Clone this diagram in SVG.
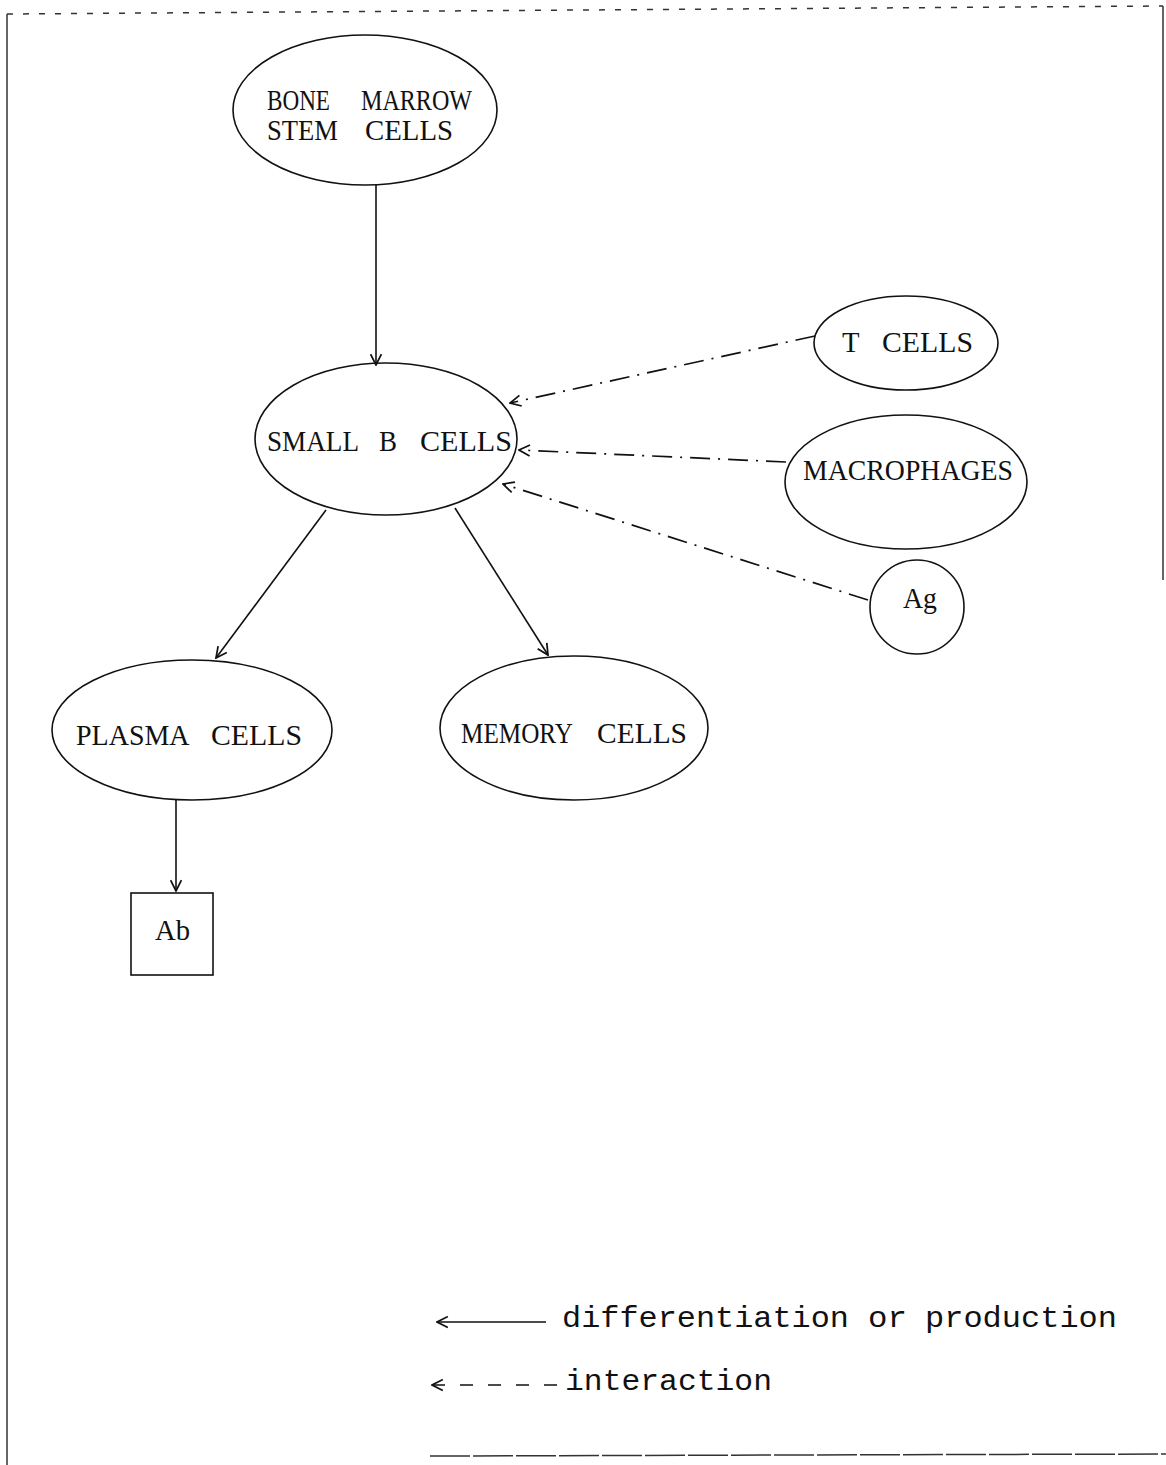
<svg xmlns="http://www.w3.org/2000/svg" width="1166" height="1465" viewBox="0 0 1166 1465">
<style>
.node{fill:none;stroke:#111;stroke-width:1.6}
.lbl{font-family:"Liberation Serif","DejaVu Serif",serif;font-size:30px;fill:#111}
.leg{font-family:"Liberation Mono","DejaVu Sans Mono",monospace;font-size:30px;fill:#111}
.solid{fill:none;stroke:#111;stroke-width:1.6}
.dash{fill:none;stroke:#111;stroke-width:1.7;stroke-dasharray:20 8 2 8}
.frame{fill:none;stroke:#333;stroke-width:1.5}
</style>
<defs>
<marker id="ah" viewBox="0 0 12 12" refX="11" refY="6" markerWidth="13" markerHeight="13" markerUnits="userSpaceOnUse" orient="auto">
<path d="M1,1 L11,6 L1,11" fill="none" stroke="#111" stroke-width="1.6"/>
</marker>
</defs>
<rect width="1166" height="1465" fill="#fff"/>
<g id="frame">
<path class="frame" d="M7,14 L1163,6" stroke-dasharray="6 10" stroke-width="1.2"/>
<path class="frame" d="M7,14 L7,1465" stroke-width="2"/>
<path class="frame" d="M1163,6 L1163,580" stroke-width="2.5"/>
<path class="frame" d="M430,1456 L1166,1454" stroke-dasharray="40 3" stroke-width="1.6"/>
</g>
<g id="connectors">
<line class="solid" x1="376" y1="185" x2="376" y2="365" marker-end="url(#ah)"/>
<line class="dash" x1="815" y1="336" x2="510" y2="403" marker-end="url(#ah)"/>
<line class="dash" x1="786" y1="462" x2="519" y2="450" marker-end="url(#ah)"/>
<line class="dash" x1="868" y1="600" x2="503" y2="484" marker-end="url(#ah)"/>
<line class="solid" x1="326" y1="510" x2="216" y2="658" marker-end="url(#ah)"/>
<line class="solid" x1="455" y1="508" x2="548" y2="655" marker-end="url(#ah)"/>
<line class="solid" x1="176" y1="800" x2="176" y2="891" marker-end="url(#ah)"/>
</g>
<g id="bone-marrow">
<ellipse class="node" cx="365" cy="110" rx="132" ry="75"/>
<text class="lbl" y="110"><tspan x="267" textLength="63" lengthAdjust="spacingAndGlyphs">BONE</tspan> <tspan x="361" textLength="111" lengthAdjust="spacingAndGlyphs">MARROW</tspan></text>
<text class="lbl" y="140"><tspan x="267" textLength="71" lengthAdjust="spacingAndGlyphs">STEM</tspan> <tspan x="365" textLength="88" lengthAdjust="spacingAndGlyphs">CELLS</tspan></text>
</g>
<g id="small-b-cells">
<ellipse class="node" cx="386" cy="439" rx="131" ry="76"/>
<text class="lbl" y="451"><tspan x="267" textLength="91" lengthAdjust="spacingAndGlyphs">SMALL</tspan> <tspan x="379" textLength="18" lengthAdjust="spacingAndGlyphs">B</tspan> <tspan x="420" textLength="92" lengthAdjust="spacingAndGlyphs">CELLS</tspan></text>
</g>
<g id="t-cells">
<ellipse class="node" cx="906" cy="343" rx="92" ry="47"/>
<text class="lbl" y="352"><tspan x="842" textLength="17" lengthAdjust="spacingAndGlyphs">T</tspan> <tspan x="882" textLength="91" lengthAdjust="spacingAndGlyphs">CELLS</tspan></text>
</g>
<g id="macrophages">
<ellipse class="node" cx="906" cy="482" rx="121" ry="67"/>
<text class="lbl" x="803" y="480" textLength="210" lengthAdjust="spacingAndGlyphs">MACROPHAGES</text>
</g>
<g id="ag">
<circle class="node" cx="917" cy="607" r="47"/>
<text class="lbl" x="903" y="608" textLength="34" lengthAdjust="spacingAndGlyphs">Ag</text>
</g>
<g id="plasma-cells">
<ellipse class="node" cx="192" cy="730" rx="140" ry="70"/>
<text class="lbl" y="745"><tspan x="76" textLength="112" lengthAdjust="spacingAndGlyphs">PLASMA</tspan> <tspan x="211" textLength="91" lengthAdjust="spacingAndGlyphs">CELLS</tspan></text>
</g>
<g id="memory-cells">
<ellipse class="node" cx="574" cy="728" rx="134" ry="72"/>
<text class="lbl" y="743"><tspan x="461" textLength="111" lengthAdjust="spacingAndGlyphs">MEMORY</tspan> <tspan x="597" textLength="90" lengthAdjust="spacingAndGlyphs">CELLS</tspan></text>
</g>
<g id="ab">
<rect class="node" x="131" y="893" width="82" height="82"/>
<text class="lbl" x="155" y="940" textLength="35" lengthAdjust="spacingAndGlyphs">Ab</text>
</g>
<g id="legend">
<line class="solid" x1="546" y1="1322" x2="437" y2="1322" marker-end="url(#ah)"/>
<text class="leg" y="1327"><tspan x="562" textLength="287" lengthAdjust="spacingAndGlyphs">differentiation</tspan> <tspan x="868" textLength="39" lengthAdjust="spacingAndGlyphs">or</tspan> <tspan x="925" textLength="192" lengthAdjust="spacingAndGlyphs">production</tspan></text>
<line fill="none" stroke="#111" stroke-width="1.6" stroke-dasharray="13 15" x1="557" y1="1385" x2="432" y2="1385" marker-end="url(#ah)"/>
<text class="leg" x="565" y="1390" textLength="207" lengthAdjust="spacingAndGlyphs">interaction</text>
</g>
</svg>
